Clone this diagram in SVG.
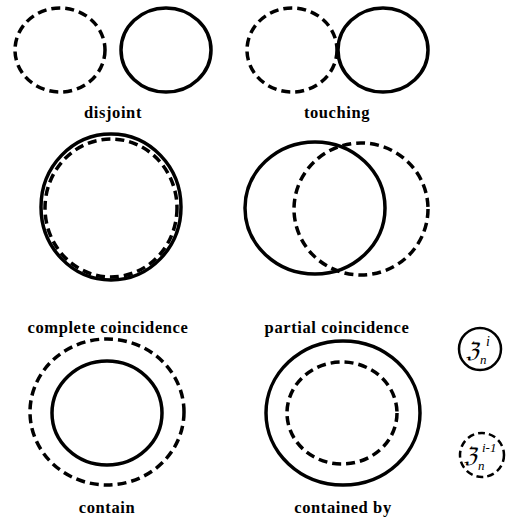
<svg xmlns="http://www.w3.org/2000/svg" width="509" height="517" viewBox="0 0 509 517">
<style>
.s{fill:none;stroke:#000;stroke-width:3.5}
.d{fill:none;stroke:#000;stroke-width:3.5;stroke-dasharray:9 5}
.t{font-family:'Liberation Serif','DejaVu Serif',serif;font-weight:bold;font-size:16.5px;letter-spacing:0.6px;text-anchor:middle;fill:#000}
.z{font-family:'Liberation Serif','DejaVu Serif',serif;font-style:italic;fill:#000}
</style>
<rect width="509" height="517" fill="#fff"/>
<g id="disjoint">
<ellipse class="d" cx="60" cy="50" rx="45" ry="42"/>
<ellipse class="s" cx="166" cy="50" rx="45" ry="42"/>
<text class="t" x="113" y="118">disjoint</text>
</g>
<g id="touching">
<ellipse class="d" cx="292" cy="50" rx="45" ry="42"/>
<ellipse class="s" cx="383" cy="50" rx="45" ry="42"/>
<text class="t" x="337" y="118">touching</text>
</g>
<g id="complete">
<ellipse class="s" cx="111" cy="207" rx="70" ry="73"/>
<ellipse class="d" cx="111" cy="208" rx="66" ry="69"/>
<text class="t" x="108" y="333">complete coincidence</text>
</g>
<g id="partial">
<ellipse class="s" cx="315" cy="208" rx="70" ry="66"/>
<ellipse class="d" cx="361" cy="209" rx="67" ry="66"/>
<text class="t" x="337" y="333">partial coincidence</text>
</g>
<g id="contain">
<ellipse class="d" cx="107" cy="412" rx="77" ry="73"/>
<ellipse class="s" cx="107" cy="413" rx="55" ry="52"/>
<text class="t" x="107" y="513">contain</text>
</g>
<g id="containedby">
<ellipse class="s" cx="343" cy="413" rx="77" ry="72"/>
<ellipse class="d" cx="342" cy="413" rx="55" ry="51"/>
<text class="t" x="343" y="513">contained by</text>
</g>
<g id="legend-i">
<circle class="s" cx="480" cy="349" r="21" style="stroke-width:2.5"/>
<text class="z" x="466" y="358" font-size="22">ℨ</text>
<text class="z" x="486" y="346" font-size="14">i</text>
<text class="z" x="480" y="364" font-size="13">n</text>
</g>
<g id="legend-i1">
<circle class="d" cx="482" cy="455" r="22" style="stroke-width:2.5;stroke-dasharray:7 4"/>
<text class="z" x="464" y="463" font-size="22">ℨ</text>
<text class="z" x="482" y="452" font-size="13">i-1</text>
<text class="z" x="478" y="470" font-size="13">n</text>
</g>
</svg>
